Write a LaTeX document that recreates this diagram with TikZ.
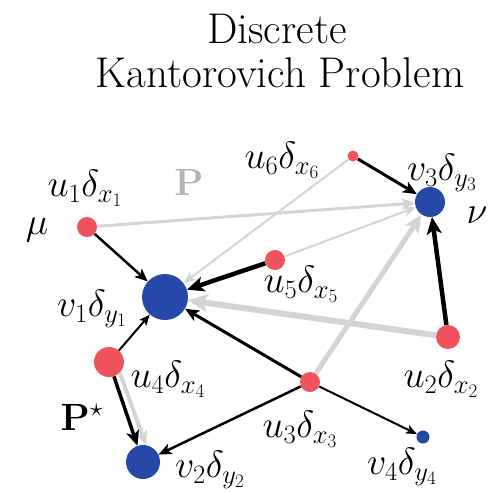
\RequirePackage{fix-cm}
\documentclass[tikz,border=0pt]{standalone}
\usetikzlibrary{arrows.meta}
\definecolor{myred}{RGB}{239,83,92}
\definecolor{myblue}{RGB}{38,72,168}
\definecolor{pgray}{RGB}{212,212,212}
\tikzset{
  dotr/.style={circle, fill=myred, inner sep=0pt, minimum size=#1},
  dotb/.style={circle, fill=myblue, inner sep=0pt, minimum size=#1},
  lab/.style={font=\fontsize{38}{42}\selectfont, inner sep=0pt},
  ttl/.style={font=\rmfamily\fontsize{43}{44}\selectfont, inner sep=0pt, anchor=base},
  ar/.style n args={3}{line width=#1, -{Stealth[length=#2,width=#3,inset=0.25*#2]}},
  bk/.style={draw=black},
  gy/.style={draw=pgray},
}
\begin{document}
\begin{tikzpicture}[x=1pt,y=-1pt]
\useasboundingbox (0,0) rectangle (495,491);
% title
\node[ttl] (t1) at (277,43) {Discrete};
\node[ttl] (t2) at (280,87) {Kantorovich Problem};
% nodes
\node[dotr=20pt] (u1) at (87,227) {};
\node[dotb=46pt] (v1) at (165,297) {};
\node[dotr=20pt] (u5) at (275,260) {};
\node[dotr=11pt] (u6) at (353,156) {};
\node[dotb=30pt] (v3) at (430,202) {};
\node[dotr=24pt] (u2) at (448,337) {};
\node[dotr=30pt] (u4) at (109,362) {};
\node[dotb=34pt] (v2) at (143,462) {};
\node[dotr=20pt] (u3) at (310,382) {};
\node[dotb=13pt] (v4) at (423,437) {};
% gray edges (P)
\draw[gy, ar={3pt}{13pt}{12pt}] (u1) -- (v3);
\draw[gy, ar={2pt}{12pt}{10pt}] (u6) -- (v1);
\draw[gy, ar={2pt}{12pt}{10pt}] (u5) -- (v3);
\draw[gy, ar={6pt}{20pt}{18pt}] (u2) -- (v1);
\draw[gy, ar={5pt}{18pt}{16pt}] (u3) -- (v3);
\draw[gy, ar={4pt}{14pt}{12pt}] (u4.-45) -- (v2.80);
% black edges (P*)
\draw[bk, ar={2.5pt}{13pt}{11pt}] (u1) -- (v1);
\draw[bk, ar={4.5pt}{17pt}{15pt}] (u5) -- (v1);
\draw[bk, ar={3pt}{14pt}{12pt}] (u6) -- (v3);
\draw[bk, ar={4.5pt}{17pt}{15pt}] (u2) -- (v3);
\draw[bk, ar={2pt}{11pt}{9pt}] (u4) -- (v1);
\draw[bk, ar={3.5pt}{15pt}{13pt}] (u4) -- (v2);
\draw[bk, ar={3pt}{14pt}{12pt}] (u3) -- (v1);
\draw[bk, ar={2.5pt}{13pt}{11pt}] (u3) -- (v2);
\draw[bk, ar={2pt}{11pt}{9pt}] (u3) -- (v4);
% labels
\node[lab] (lu1) at (85,188) {$u_1\delta_{x_1}$};
\node[lab] (lmu) at (37,230) {$\mu$};
\node[lab, text=pgray!85!black] (lP) at (189,182) {$\mathbf{P}$};
\node[lab] (lu6) at (282,160) {$u_6\delta_{x_6}$};
\node[lab] (lv3) at (442,173) {$v_3\delta_{y_3}$};
\node[lab] (lnu) at (477,215) {$\nu$};
\node[lab] (lu5) at (301,284) {$u_5\delta_{x_5}$};
\node[lab] (lv1) at (92,309) {$v_1\delta_{y_1}$};
\node[lab] (lu4) at (168,379) {$u_4\delta_{x_4}$};
\node[lab] (lPs) at (82,417) {$\mathbf{P}^\star$};
\node[lab] (lv2) at (210,470) {$v_2\delta_{y_2}$};
\node[lab] (lu2) at (441,379) {$u_2\delta_{x_2}$};
\node[lab] (lu3) at (300,429) {$u_3\delta_{x_3}$};
\node[lab] (lv4) at (402,467) {$v_4\delta_{y_4}$};
\end{tikzpicture}
\end{document}
